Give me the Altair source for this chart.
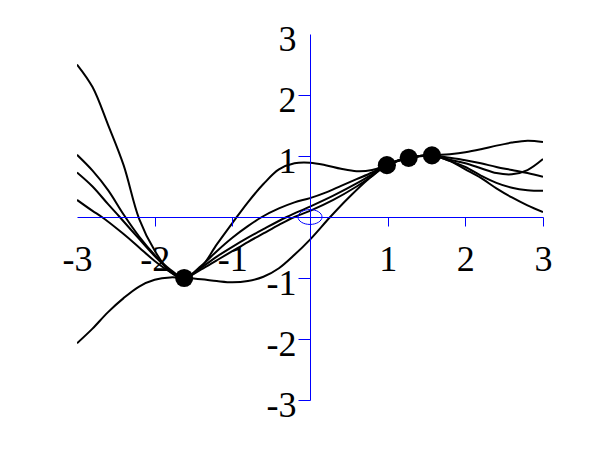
import altair as alt
import pandas as pd

# ---- data ----
C_X = [-3.0, -2.8, -2.6, -2.4, -2.2, -2.0, -1.8, -1.62, -1.4, -1.2, -1.0, -0.8, -0.6, -0.4, -0.2, 0.0,
       0.2, 0.4, 0.6, 0.8, 0.99, 1.27, 1.57, 1.8, 2.0, 2.2, 2.4, 2.6, 2.8, 3.0]
C_Y = [2.50, 2.13, 1.51, 0.85, -0.03, -0.55, -0.90, -1.0, -0.82, -0.45, -0.10, 0.24, 0.54, 0.78, 0.88, 0.89,
       0.85, 0.79, 0.75, 0.77, 0.85, 0.97, 1.01, 1.03, 1.06, 1.11, 1.17, 1.22, 1.25, 1.23]

D_X = [-3.0, -2.8, -2.6, -2.4, -2.2, -2.0, -1.8, -1.62, -1.4, -1.2, -1.0, -0.8, -0.6, -0.4, -0.2, 0.0,
       0.26, 0.5, 0.75, 0.99, 1.27, 1.57, 1.8, 2.0, 2.2, 2.4, 2.6, 2.8, 3.0]
D_Y = [-2.07, -1.83, -1.56, -1.33, -1.14, -1.03, -0.99, -1.0, -1.02, -1.05, -1.07, -1.05, -0.98, -0.84, -0.62, -0.37,
       0.0, 0.32, 0.62, 0.85, 0.97, 1.01, 0.92, 0.78, 0.64, 0.47, 0.32, 0.19, 0.08]

M1_X = [-3.0, -2.8, -2.6, -2.4, -2.2, -2.0, -1.8, -1.62, -1.4, -1.2, -1.0, -0.8, -0.62, -0.4, -0.2, 0.0,
        0.2, 0.4, 0.6, 0.8, 0.99, 1.27, 1.57, 1.8, 2.0, 2.2, 2.4, 2.6, 2.8, 3.0]
M1_Y = [1.02, 0.76, 0.44, 0.04, -0.32, -0.62, -0.86, -1.0, -0.80, -0.56, -0.34, -0.15, 0.0, 0.14, 0.24, 0.31,
        0.40, 0.51, 0.62, 0.73, 0.85, 0.97, 1.01, 0.97, 0.93, 0.88, 0.82, 0.77, 0.72, 0.66]

M2_X = [-3.0, -2.8, -2.6, -2.45, -2.2, -2.0, -1.8, -1.62, -1.4, -1.2, -1.0, -0.8, -0.6, -0.3, 0.0,
        0.3, 0.6, 0.8, 0.99, 1.27, 1.57, 1.8, 2.0, 2.2, 2.4, 2.6, 2.8, 3.0]
M2_Y = [0.73, 0.50, 0.21, 0.0, -0.36, -0.64, -0.88, -1.0, -0.83, -0.65, -0.49, -0.34, -0.20, 0.0, 0.17,
        0.35, 0.55, 0.70, 0.85, 0.97, 1.01, 0.94, 0.88, 0.80, 0.72, 0.70, 0.77, 0.95]

M3_X = [-3.0, -2.8, -2.68, -2.4, -2.2, -2.0, -1.8, -1.62, -1.4, -1.2, -1.0, -0.8, -0.6, -0.4, -0.2, 0.0,
        0.3, 0.6, 0.8, 0.99, 1.27, 1.57, 1.8, 2.0, 2.2, 2.4, 2.6, 2.8, 3.0]
M3_Y = [0.28, 0.10, 0.0, -0.28, -0.50, -0.72, -0.90, -1.0, -0.86, -0.71, -0.56, -0.41, -0.27, -0.13, 0.0, 0.10,
        0.28, 0.50, 0.67, 0.85, 0.97, 1.01, 0.92, 0.82, 0.68, 0.56, 0.48, 0.44, 0.43]

DOT_X = [-1.62, 0.99, 1.27, 1.57]
DOT_Y = [-1.0, 0.85, 0.97, 1.01]

AXIS_VALUES = [-3, -2, -1, 1, 2, 3]

rows = []
for name, xs, ys in [("C", C_X, C_Y), ("D", D_X, D_Y), ("M1", M1_X, M1_Y),
                     ("M2", M2_X, M2_Y), ("M3", M3_X, M3_Y)]:
    for a, b in zip(xs, ys):
        rows.append({"curve": name, "x": a, "y": b})
curves = pd.DataFrame(rows)
dots = pd.DataFrame({"x": DOT_X, "y": DOT_Y})
origin = pd.DataFrame({"x": [0.0], "y": [0.0]})

BLUE = "#0000ff"
FONT = "Liberation Serif"
LABEL = "(datum.value < 0 ? '-' : '') + abs(datum.value)"

xscale = alt.Scale(domain=[-3, 3], nice=False, zero=False)
yscale = alt.Scale(domain=[-3, 3], nice=False, zero=False)

xaxis = alt.Axis(
    title=None, orient="bottom", offset=-183, values=AXIS_VALUES, grid=False,
    domainColor=BLUE, domainWidth=1, tickColor=BLUE, tickWidth=1, tickSize=9,
    tickOpacity={"condition": {"test": "datum.value == -3", "value": 0}, "value": 1},
    labelExpr=LABEL,
    labelFont=FONT, labelFontSize=36, labelColor="black", labelPadding=16,
    labelBaseline="top", labelFlush=False, labelOverlap=False, zindex=1,
)
yaxis = alt.Axis(
    title=None, orient="left", offset=-233, values=AXIS_VALUES, grid=False,
    domainColor=BLUE, domainWidth=1, tickColor=BLUE, tickWidth=1, tickSize=12,
    tickOpacity={"condition": {"test": "datum.value == 3", "value": 0}, "value": 1},
    labelExpr=LABEL,
    labelFont=FONT, labelFontSize=36, labelColor="black", labelPadding=2,
    labelBaseline="middle", labelOffset=5, labelFlush=False, labelOverlap=False, zindex=1,
)

lines = alt.Chart(curves).mark_line(
    color="black", strokeWidth=2, interpolate="catmull-rom", clip=True
).encode(
    x=alt.X("x:Q", scale=xscale, axis=xaxis),
    y=alt.Y("y:Q", scale=yscale, axis=yaxis),
    detail="curve:N",
)

pts = alt.Chart(dots).mark_point(
    shape="circle", filled=True, color="black", size=330, opacity=1
).encode(x="x:Q", y="y:Q")

ellipse = alt.Chart(origin).mark_point(
    shape="M-1,0 A1,0.62 0 1,1 1,0 A1,0.62 0 1,1 -1,0 Z",
    filled=False, color=BLUE, size=576, strokeWidth=1, opacity=1
).encode(x="x:Q", y="y:Q")

chart = alt.layer(lines, pts, ellipse).properties(
    width=466, height=366,
    autosize=alt.AutoSizeParams(type="none"),
    padding={"left": 69, "top": 26, "right": 49, "bottom": 40},
    background="white",
).configure_view(stroke=None)

chart.save("out.html", embed_options={"renderer": "svg", "actions": False})
